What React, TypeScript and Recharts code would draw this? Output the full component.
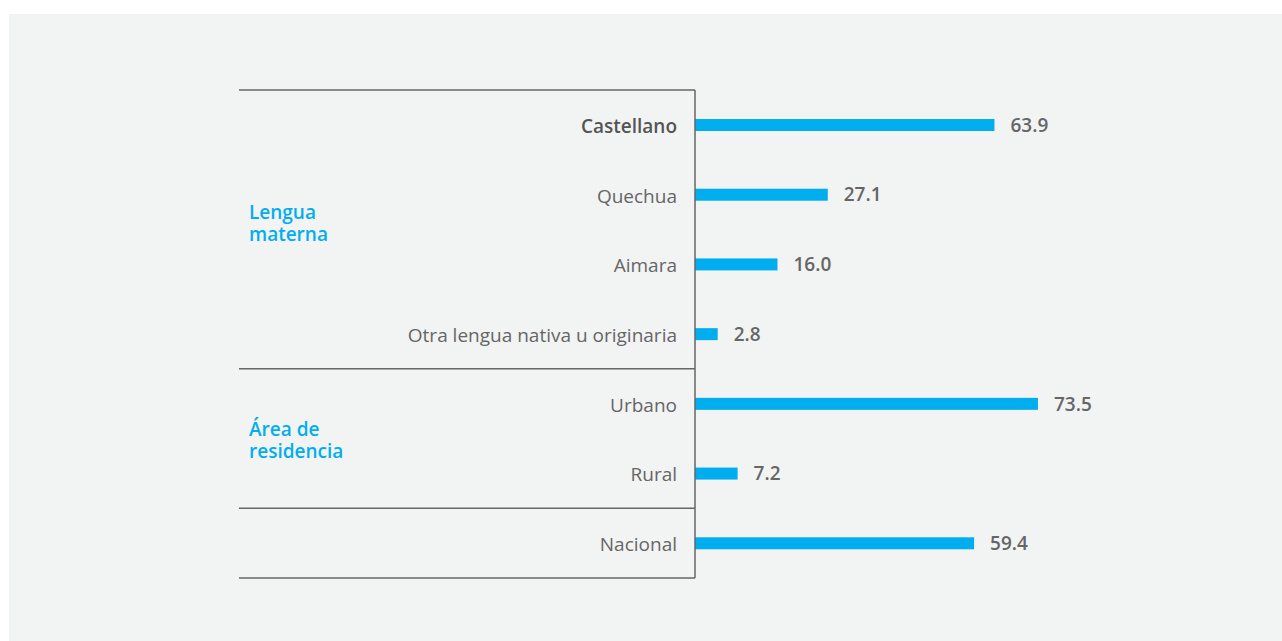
import React from "react";
import { BarChart, Bar, XAxis, YAxis, LabelList } from "recharts";

// Values
const categories = [
  "Castellano",
  "Quechua",
  "Aimara",
  "Otra lengua nativa u originaria",
  "Urbano",
  "Rural",
  "Nacional",
];
const values = [63.9, 27.1, 16.0, 2.8, 73.5, 7.2, 59.4];
const groupSizes = [4, 2, 1];
const groupLabels = [["Lengua", "materna"], ["Área de", "residencia"], []];
const boldCategories = ["Castellano"];

const data = categories.map((name, i) => ({ name, value: values[i] }));

const BLUE = "#00aeef";
const GRAY = "#666666";
const FONT = "'Open Sans', sans-serif";
const LINE_LEFT = 230;
const AXIS_X = 686;
const LABEL_SHIFT = [0, 7, 0]; // small nudges for the group titles

// first index of each group
const groupStarts = groupSizes.map((_, g) => groupSizes.slice(0, g).reduce((a, b) => a + b, 0));

const CategoryTick = (props: any) => {
  const { x, y, payload } = props;
  const idx = payload.index;
  const half = payload.offset || 34.85;
  const g = groupStarts.indexOf(idx);
  const bold = boldCategories.includes(payload.value);
  return (
    <g>
      <text
        x={x}
        y={y}
        dy={8}
        textAnchor="end"
        fontFamily={FONT}
        fontSize={19}
        fontWeight={bold ? 600 : 400}
        fill={bold ? "#555555" : GRAY}
      >
        {payload.value}
      </text>
      {g >= 0 && (
        <line x1={LINE_LEFT} x2={AXIS_X} y1={y - half} y2={y - half} stroke={GRAY} strokeWidth={1.5} />
      )}
      {idx === categories.length - 1 && (
        <line x1={LINE_LEFT} x2={AXIS_X} y1={y + half} y2={y + half} stroke={GRAY} strokeWidth={1.5} />
      )}
      {g >= 0 && groupLabels[g].length > 0 && (
        <text
          x={LINE_LEFT + 10}
          y={y + (groupSizes[g] - 1) * half - 10 + LABEL_SHIFT[g]}
          fontFamily={FONT}
          fontSize={19}
          fontWeight={600}
          fill={BLUE}
        >
          {groupLabels[g].map((line, k) => (
            <tspan key={k} x={LINE_LEFT + 10} dy={k === 0 ? 0 : 22}>
              {line}
            </tspan>
          ))}
        </text>
      )}
    </g>
  );
};

const BarShape = (props: any) => {
  const { x, y, width, height } = props;
  return <rect x={x - 10} y={y} width={width + 10} height={height} fill={BLUE} />;
};

export default function App() {
  return (
    <div>
      <style>{`body{margin:0}`}</style>
      <div
        style={{
          position: "absolute",
          left: 9,
          top: 14,
          width: 1273,
          height: 627,
          background: "#f2f3f3",
        }}
      >
        <BarChart
          width={1273}
          height={627}
          data={data}
          layout="vertical"
          margin={{ top: 76, right: 124, bottom: 63, left: 0 }}
        >
          <XAxis type="number" domain={[0, 100]} hide padding={{ left: 10, right: 0 }} />
          <YAxis
            type="category"
            dataKey="name"
            width={686}
            axisLine={{ stroke: GRAY, strokeWidth: 1.5 }}
            tickLine={false}
            tickSize={0}
            tickMargin={18}
            interval={0}
            tick={<CategoryTick />}
          />
          <Bar dataKey="value" barSize={12} shape={<BarShape />} isAnimationActive={false}>
            <LabelList
              dataKey="value"
              position="right"
              offset={16}
              formatter={(v: any) => Number(v).toFixed(1)}
              style={{ fontFamily: FONT, fontSize: 19, fontWeight: 600, fill: GRAY }}
            />
          </Bar>
        </BarChart>
      </div>
    </div>
  );
}
